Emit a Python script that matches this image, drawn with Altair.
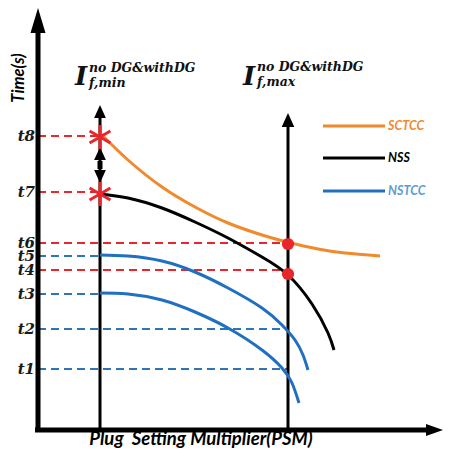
import altair as alt
import pandas as pd

# Schematic coordinate system: origin where the two axes cross (units ~ px)
X_DOMAIN = [-30, 406]
Y_DOMAIN = [-18, 422]

IF_MIN_X = 62
IF_MAX_X = 250

# time levels on the vertical axis
t_labels = ["t1", "t2", "t3", "t4", "t5", "t6", "t7", "t8"]
t_values = [61, 101, 136, 160, 174, 187, 238, 294]
t_colors = ["#2e75b6", "#2e75b6", "#2e75b6", "#e8262b", "#2e75b6", "#e8262b", "#e8262b", "#e8262b"]
t_ends = [IF_MAX_X, IF_MAX_X, IF_MIN_X, IF_MAX_X, IF_MIN_X, IF_MAX_X, IF_MIN_X, IF_MIN_X]

# characteristic curves
sctcc_x = [62, 90, 124, 157, 190, 224, 249, 280, 307, 342]
sctcc_y = [297, 270, 243, 223, 207, 195, 188, 181, 177, 174]
nss_x = [62, 90, 124, 157, 190, 224, 250, 274, 290, 296]
nss_y = [236, 232, 222, 208, 192, 173, 155, 126, 97, 80]
nstcc_a_x = [62, 90, 124, 157, 190, 224, 244, 257, 265, 270]
nstcc_a_y = [175, 174, 169, 158, 142, 122, 105, 90, 75, 60]
nstcc_b_x = [62, 90, 124, 157, 190, 224, 244, 254, 261]
nstcc_b_y = [137, 136, 130, 118, 102, 80, 62, 47, 27]

curve_names = ["SCTCC", "NSS", "NSTCC_a", "NSTCC_b"]
curve_colors = ["#f08a2c", "#000000", "#1f70c1", "#1f70c1"]

legend_names = ["SCTCC", "NSS", "NSTCC"]
legend_y = [304, 272, 239]
legend_line_colors = ["#f08a2c", "#000000", "#1f70c1"]
legend_text_colors = ["#f08a2c", "#000000", "#5b9bd5"]

# ---------------------------------------------------------------------------
xs = alt.Scale(domain=X_DOMAIN, nice=False, zero=False)
ys = alt.Scale(domain=Y_DOMAIN, nice=False, zero=False)


def X(f="x"):
    return alt.X(f"{f}:Q", scale=xs, axis=None)


def Y(f="y"):
    return alt.Y(f"{f}:Q", scale=ys, axis=None)


rows = []
for name, color, cx, cy in zip(curve_names, curve_colors,
                               [sctcc_x, nss_x, nstcc_a_x, nstcc_b_x],
                               [sctcc_y, nss_y, nstcc_a_y, nstcc_b_y]):
    for i, (a, b) in enumerate(zip(cx, cy)):
        rows.append({"series": name, "order": i, "x": a, "y": b, "color": color})
curves_df = pd.DataFrame(rows)

guides_df = pd.DataFrame({"label": t_labels, "y": t_values, "x": 0,
                          "x2": t_ends, "color": t_colors, "tx": -3})

# dashed guide lines
guides = alt.Chart(guides_df).mark_rule(strokeDash=[8, 5], strokeWidth=2).encode(
    x=X(), x2="x2:Q", y=Y(), color=alt.Color("color:N", scale=None))

# vertical fault-current lines
vlines_df = pd.DataFrame({"x": [IF_MIN_X, IF_MAX_X], "y": [0, 0], "y2": [316, 306]})
vlines = alt.Chart(vlines_df).mark_rule(strokeWidth=3, color="black").encode(
    x=X(), y=Y(), y2="y2:Q")

# axes lines
axes_df = pd.DataFrame({"x": [0, -3], "x2": [0, 392], "y": [-2, 0], "y2": [400, 0]})
axes_lines = alt.Chart(axes_df).mark_rule(strokeWidth=5, color="black").encode(
    x=X(), x2="x2:Q", y=Y(), y2="y2:Q")

# double arrow shaft
shaft_df = pd.DataFrame({"x": [IF_MIN_X], "y": [261], "y2": [269]})
shaft = alt.Chart(shaft_df).mark_rule(strokeWidth=5, color="black").encode(
    x=X(), y=Y(), y2="y2:Q")

# curves
curves = alt.Chart(curves_df).mark_line(strokeWidth=3, interpolate="natural").encode(
    x=X(), y=Y(), color=alt.Color("color:N", scale=None),
    detail="series:N", order="order:Q")

# legend
leg_df = pd.DataFrame({"name": legend_names, "y": legend_y, "x": 285, "x2": 347,
                       "lc": legend_line_colors, "tc": legend_text_colors, "tx": 350})
leg_lines = alt.Chart(leg_df).mark_rule(strokeWidth=3).encode(
    x=X(), x2="x2:Q", y=Y(), color=alt.Color("lc:N", scale=None))
leg_text = alt.Chart(leg_df).mark_text(
    align="left", baseline="middle", font="Lato", fontSize=12.5,
    fontStyle="italic", fontWeight="bold").encode(
    x=X("tx"), y=Y(), text="name:N", color=alt.Color("tc:N", scale=None))

# arrow heads
UP = "M0,-1L0.6,1L-0.6,1Z"
UP_WIDE = "M0,-1L0.9,1L-0.9,1Z"
DOWN_WIDE = "M0,1L0.9,-1L-0.9,-1Z"
RIGHT = "M1,0L-1,0.7L-1,-0.7Z"
heads_df = pd.DataFrame({
    "x": [0, IF_MIN_X, IF_MAX_X, IF_MIN_X, IF_MIN_X, 396.5],
    "y": [409.5, 318.5, 310, 276.5, 253.5, 0],
    "shape": [UP, UP_WIDE, UP_WIDE, UP_WIDE, DOWN_WIDE, RIGHT],
    "size": [625, 169, 196, 169, 169, 289],
})
heads = alt.Chart(heads_df).mark_point(filled=True, color="black", opacity=1,
                                       strokeWidth=0).encode(
    x=X(), y=Y(), shape=alt.Shape("shape:N", scale=None),
    size=alt.Size("size:Q", scale=None))

# red asterisks at t8 and t7 on the minimum current line
STAR = "M0,-1L0,1M-0.87,-0.5L0.87,0.5M-0.87,0.5L0.87,-0.5"
stars_df = pd.DataFrame({"x": [IF_MIN_X, IF_MIN_X], "y": [293, 236]})
stars = alt.Chart(stars_df).mark_point(shape=STAR, filled=False, color="#e8262b",
                                       strokeWidth=3, size=576, opacity=1).encode(
    x=X(), y=Y())

# red dots on the maximum current line
dots_df = pd.DataFrame({"x": [IF_MAX_X, IF_MAX_X], "y": [186, 156]})
dots = alt.Chart(dots_df).mark_circle(color="#e8262b", size=150, opacity=1).encode(
    x=X(), y=Y())

# tick labels t1..t8
tlab = alt.Chart(guides_df).mark_text(
    align="right", baseline="middle", font="DejaVu Serif", fontSize=15,
    fontStyle="italic", fontWeight="bold", color="#1a1a1a").encode(
    x=X("tx"), y=Y(), text="label:N")

# axis titles
ytitle_df = pd.DataFrame({"x": [-19], "y": [352], "t": ["Time(s)"]})
ytitle = alt.Chart(ytitle_df).mark_text(
    angle=270, align="center", baseline="middle", font="Lato", fontSize=16.5,
    fontStyle="italic", fontWeight="bold", color="black").encode(
    x=X(), y=Y(), text="t:N")

xtitle_df = pd.DataFrame({"x": [163], "y": [-9],
                          "t": ["Plug\u00a0\u00a0Setting Multiplier(PSM)"]})
xtitle = alt.Chart(xtitle_df).mark_text(
    align="center", baseline="middle", font="Lato", fontSize=18.5,
    fontStyle="italic", fontWeight="bold", color="black").encode(
    x=X(), y=Y(), text="t:N")

# current labels I_f^{no DG&withDG}
i_df = pd.DataFrame({"x": [37, 205], "y": [345, 345], "t": ["I", "I"]})
i_big = alt.Chart(i_df).mark_text(
    align="left", baseline="alphabetic", font="DejaVu Serif", fontSize=26,
    fontStyle="italic", fontWeight="bold", color="#111111").encode(
    x=X(), y=Y(), text="t:N")
sup_df = pd.DataFrame({"x": [51, 219], "y": [362, 363],
                       "t": ["no DG&withDG", "no DG&withDG"]})
sup = alt.Chart(sup_df).mark_text(
    align="left", baseline="middle", font="DejaVu Serif", fontSize=12.5,
    fontStyle="italic", fontWeight="bold", color="#111111").encode(
    x=X(), y=Y(), text="t:N")
sub_df = pd.DataFrame({"x": [51, 219], "y": [347, 348], "t": ["f,min", "f,max"]})
sub = alt.Chart(sub_df).mark_text(
    align="left", baseline="middle", font="DejaVu Serif", fontSize=12.5,
    fontStyle="italic", fontWeight="bold", color="#111111").encode(
    x=X(), y=Y(), text="t:N")

chart = alt.layer(
    guides, vlines, curves, axes_lines, shaft, heads, leg_lines, leg_text,
    stars, dots, tlab, ytitle, xtitle, i_big, sup, sub,
).properties(
    width=436, height=440, padding=0,
    autosize=alt.AutoSizeParams(type="none"),
    background="white",
).configure_view(stroke=None)

chart.save("out.html", embed_options={"renderer": "svg", "actions": False})
